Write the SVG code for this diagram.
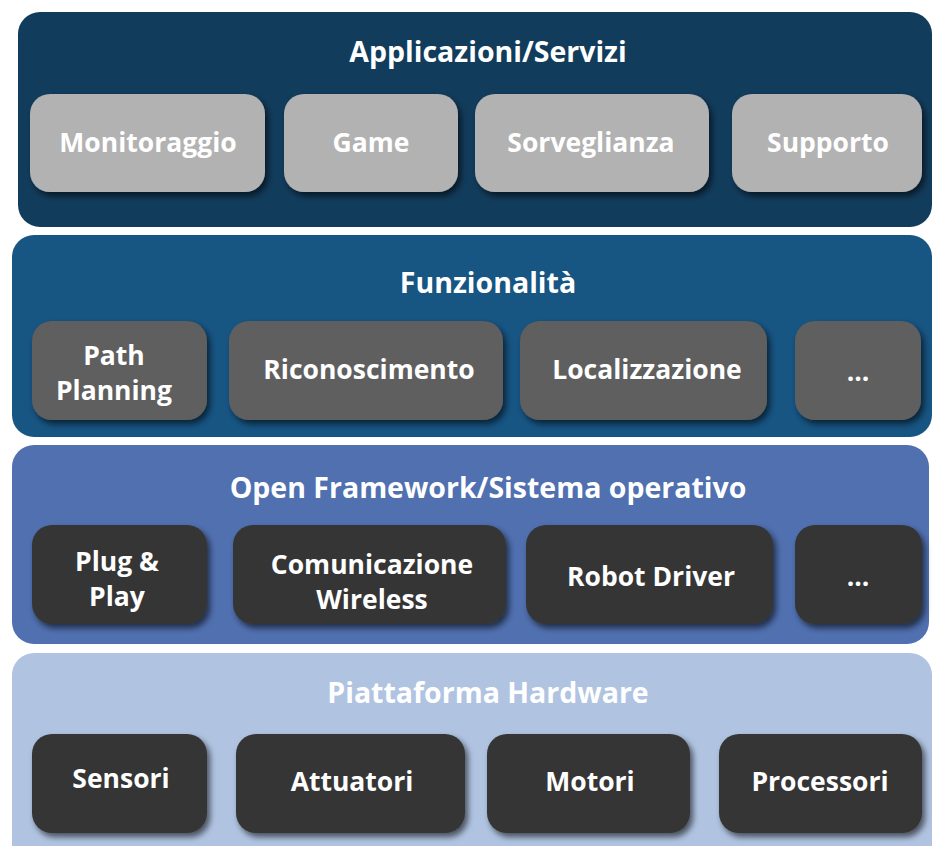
<svg xmlns="http://www.w3.org/2000/svg" width="933" height="846" viewBox="0 0 933 846">
<defs>
<filter id="sh" x="-20%" y="-20%" width="140%" height="150%">
<feDropShadow dx="3" dy="4" stdDeviation="3" flood-color="#000" flood-opacity="0.6"/>
</filter>
<style>
.t{font-family:"Open Sans","Liberation Sans",sans-serif;font-weight:700;fill:#fff;text-anchor:middle;dominant-baseline:central}
.h{font-size:28.5px}
.b{font-size:26.5px}
.g1{fill:#b2b2b2}
.g2{fill:#5e5e5e}
.g3{fill:#363636}
.box{filter:url(#sh)}
</style>
</defs>
<rect width="933" height="846" fill="#fff"/>
<g id="layer-app">
<rect x="18" y="12" width="914" height="215" rx="22" fill="#123c5c"/>
<text class="t h" x="488" y="51">Applicazioni/Servizi</text>
</g>
<g id="layer-funz">
<rect x="12" y="235" width="920" height="202" rx="22" fill="#175583"/>
<text class="t h" x="488" y="282">Funzionalità</text>
</g>
<g id="layer-os">
<rect x="12" y="445" width="917" height="199" rx="22" fill="#5070b0"/>
<text class="t h" x="488" y="487">Open Framework/Sistema operativo</text>
</g>
<g id="layer-hw">
<rect x="12" y="653" width="920" height="215" rx="22" fill="#b0c4e2"/>
<text class="t h" x="488" y="692">Piattaforma Hardware</text>
</g>
<g id="n-monitoraggio"><rect class="box g1" x="30" y="94" width="235" height="98" rx="20"/><text class="t b" x="148" y="142">Monitoraggio</text></g>
<g id="n-game"><rect class="box g1" x="284" y="94" width="174" height="98" rx="20"/><text class="t b" x="371" y="142">Game</text></g>
<g id="n-sorveglianza"><rect class="box g1" x="475" y="94" width="234" height="98" rx="20"/><text class="t b" x="591" y="142">Sorveglianza</text></g>
<g id="n-supporto"><rect class="box g1" x="732" y="94" width="190" height="98" rx="20"/><text class="t b" x="828" y="142">Supporto</text></g>
<g id="n-path"><rect class="box g2" x="32" y="321" width="175" height="99" rx="20"/><text class="t b" x="114" y="355">Path</text><text class="t b" x="114" y="390">Planning</text></g>
<g id="n-ricon"><rect class="box g2" x="229" y="321" width="274" height="99" rx="20"/><text class="t b" x="369" y="369">Riconoscimento</text></g>
<g id="n-local"><rect class="box g2" x="520" y="321" width="247" height="99" rx="20"/><text class="t b" x="647" y="369">Localizzazione</text></g>
<g id="n-etc1"><rect class="box g2" x="795" y="321" width="126" height="99" rx="20"/><text class="t b" x="858" y="371">...</text></g>
<g id="n-plug"><rect class="box g3" x="32" y="525" width="175" height="99" rx="20"/><text class="t b" x="117" y="561">Plug &amp;</text><text class="t b" x="117" y="596">Play</text></g>
<g id="n-wireless"><rect class="box g3" x="233" y="525" width="273" height="99" rx="20"/><text class="t b" x="372" y="564">Comunicazione</text><text class="t b" x="372" y="599">Wireless</text></g>
<g id="n-driver"><rect class="box g3" x="526" y="525" width="247" height="99" rx="20"/><text class="t b" x="651" y="576">Robot Driver</text></g>
<g id="n-etc2"><rect class="box g3" x="795" y="525" width="127" height="99" rx="20"/><text class="t b" x="858" y="576">...</text></g>
<g id="n-sensori"><rect class="box g3" x="32" y="734" width="175" height="99" rx="20"/><text class="t b" x="121" y="778">Sensori</text></g>
<g id="n-attuatori"><rect class="box g3" x="236" y="734" width="229" height="99" rx="20"/><text class="t b" x="352" y="781">Attuatori</text></g>
<g id="n-motori"><rect class="box g3" x="487" y="734" width="203" height="99" rx="20"/><text class="t b" x="590" y="781">Motori</text></g>
<g id="n-processori"><rect class="box g3" x="719" y="734" width="203" height="99" rx="20"/><text class="t b" x="820" y="781">Processori</text></g>
<g id="connectors"/>
</svg>
